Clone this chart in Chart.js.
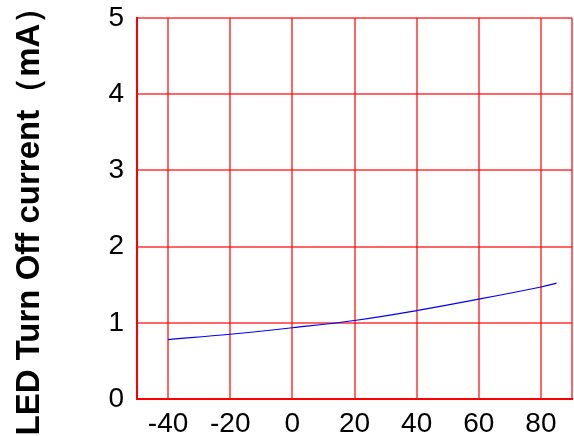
<!DOCTYPE html>
<html>
<head>
<meta charset="utf-8">
<script src="https://cdn.jsdelivr.net/npm/chart.js@4"></script>
<style>
  html, body { margin: 0; padding: 0; background: #fff; }
  #wrap { width: 574px; height: 436px; }
</style>
</head>
<body>
<div id="wrap"><canvas id="lineChart"></canvas></div>
<script>
var temps = [-40, -20, 0, 20, 40, 60, 80, 85];
var offCurrent = [0.78, 0.85, 0.935, 1.03, 1.16, 1.31, 1.47, 1.52];
var xTicks = [-50, -40, -20, 0, 20, 40, 60, 80, 90];
var xLabels = [-40, -20, 0, 20, 40, 60, 80];
var yTitle = "LED Turn Off current\uff08mA\uff09 ";

var points = temps.map(function (t, i) { return { x: t, y: offCurrent[i] }; });

var ctxL = document.getElementById("lineChart").getContext('2d');
var myLineChart = new Chart(ctxL, {
  type: 'line',
  data: {
    datasets: [
      {
        data: points,
        borderColor: '#0000ff',
        borderWidth: 1.2,
        pointRadius: 0,
        tension: 0.4,
        fill: false
      }
    ]
  },
  options: {
    responsive: true,
    maintainAspectRatio: false,
    animation: false,
    layout: { padding: { left: 0, right: 2, top: 18, bottom: 0 } },
    plugins: { legend: { display: false }, tooltip: { enabled: false } },
    scales: {
      x: {
        type: 'linear',
        min: -50,
        max: 90,
        afterBuildTicks: function (scale) {
          scale.ticks = xTicks.map(function (v) { return { value: v }; });
        },
        afterFit: function (scale) {
          scale.height = 37;
          scale.paddingLeft = 0;
          scale.paddingRight = 0;
        },
        grid: { color: 'rgba(255,0,0,0.6)', lineWidth: 2, drawTicks: false },
        border: { color: '#ff0000', width: 2 },
        ticks: {
          autoSkip: false,
          maxRotation: 0,
          padding: 8,
          color: '#000',
          font: { family: 'Liberation Sans', size: 28 },
          callback: function (v) { return xLabels.indexOf(v) >= 0 ? String(v) : ''; }
        }
      },
      y: {
        min: 0,
        max: 5,
        afterFit: function (scale) {
          scale.width = 137;
          scale.paddingTop = 0;
          scale.paddingBottom = 0;
        },
        grid: { color: 'rgba(255,0,0,0.6)', lineWidth: 2, drawTicks: false },
        border: { color: '#ff0000', width: 2 },
        ticks: {
          stepSize: 1,
          padding: 13,
          color: '#000',
          font: { family: 'Liberation Sans', size: 28 }
        },
        title: {
          display: true,
          text: yTitle,
          color: '#000',
          padding: { top: 10, bottom: 0 },
          font: { family: 'Liberation Sans', size: 33, weight: 'bold' }
        }
      }
    }
  }
});
</script>
</body>
</html>
